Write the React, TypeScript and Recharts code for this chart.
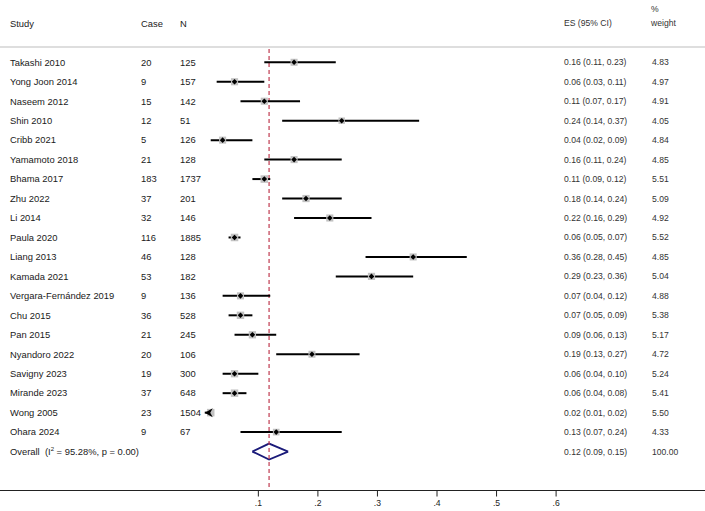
import React from "react";
import { ComposedChart, Scatter, ErrorBar, Area, XAxis, YAxis, ReferenceLine } from "recharts";

const studies = [
  "Takashi 2010", "Yong Joon 2014", "Naseem 2012", "Shin 2010", "Cribb 2021",
  "Yamamoto 2018", "Bhama 2017", "Zhu 2022", "Li 2014", "Paula 2020",
  "Liang 2013", "Kamada 2021", "Vergara-Fernández 2019", "Chu 2015", "Pan 2015",
  "Nyandoro 2022", "Savigny 2023", "Mirande 2023", "Wong 2005", "Ohara 2024",
];
const cases = [20, 9, 15, 12, 5, 21, 183, 37, 32, 116, 46, 53, 9, 36, 21, 20, 19, 37, 23, 9];
const totals = [125, 157, 142, 51, 126, 128, 1737, 201, 146, 1885, 128, 182, 136, 528, 245, 106, 300, 648, 1504, 67];
const es = [0.16, 0.06, 0.11, 0.24, 0.04, 0.16, 0.11, 0.18, 0.22, 0.06, 0.36, 0.29, 0.07, 0.07, 0.09, 0.19, 0.06, 0.06, 0.02, 0.13];
const ciLow = [0.11, 0.03, 0.07, 0.14, 0.02, 0.11, 0.09, 0.14, 0.16, 0.05, 0.28, 0.23, 0.04, 0.05, 0.06, 0.13, 0.04, 0.04, 0.01, 0.07];
const ciHigh = [0.23, 0.11, 0.17, 0.37, 0.09, 0.24, 0.12, 0.24, 0.29, 0.07, 0.45, 0.36, 0.12, 0.09, 0.13, 0.27, 0.10, 0.08, 0.02, 0.24];
const weights = [4.83, 4.97, 4.91, 4.05, 4.84, 4.85, 5.51, 5.09, 4.92, 5.52, 4.85, 5.04, 4.88, 5.38, 5.17, 4.72, 5.24, 5.41, 5.50, 4.33];
const arrowStudies = ["Wong 2005"];

const overallEs = 0.118;
const overallLow = 0.09;
const overallHigh = 0.15;
const overallWeight = "100.00";
const overallLabel = "Overall\u00a0\u00a0(I";
const overallStats = " = 95.28%, p = 0.00)";

const xTicks = [0.1, 0.2, 0.3, 0.4, 0.5, 0.6];
const xTickLabels = [".1", ".2", ".3", ".4", ".5", ".6"];

const FONT = "'Liberation Sans', Arial, Helvetica, sans-serif";

const studyData = studies.map((s, i) => ({
  x: es[i],
  row: i + 1,
  err: [es[i] - ciLow[i], ciHigh[i] - es[i]],
  w: weights[i],
  arrow: arrowStudies.includes(s),
}));

const arrowData = studies
  .map((s, i) => ({ x: ciLow[i], row: i + 1, s }))
  .filter((d) => arrowStudies.includes(d.s));

const overallRow = studies.length + 1;
const diamondData = [
  { x: overallLow, r: [overallRow, overallRow] },
  { x: overallEs, r: [overallRow - 0.41, overallRow + 0.41] },
  { x: overallHigh, r: [overallRow, overallRow] },
];

const labelData = [
  { x: 0, row: -1, kind: "header" },
  ...studies.map((s, i) => ({
    x: 0,
    row: i + 1,
    kind: "study",
    study: s,
    cases: String(cases[i]),
    n: String(totals[i]),
    ci: `${es[i].toFixed(2)} (${ciLow[i].toFixed(2)}, ${ciHigh[i].toFixed(2)})`,
    wt: weights[i].toFixed(2),
  })),
  {
    x: 0,
    row: overallRow,
    kind: "overall",
    ci: `${overallEs.toFixed(2)} (${overallLow.toFixed(2)}, ${overallHigh.toFixed(2)})`,
    wt: overallWeight,
  },
];

const StudyMarker = (props: any) => {
  const { cx, cy, payload } = props;
  const side = Math.sqrt(payload.w) * 3.2;
  return (
    <g>
      <rect x={cx - side / 2} y={cy - side / 2} width={side} height={side} fill="#c2c2c2" />
      {!payload.arrow && (
        <polygon
          points={`${cx - 2.8},${cy} ${cx},${cy - 2.8} ${cx + 2.8},${cy} ${cx},${cy + 2.8}`}
          fill="#000"
        />
      )}
    </g>
  );
};

const ArrowMarker = (props: any) => {
  const { cx, cy } = props;
  return (
    <polygon
      points={`${cx},${cy} ${cx + 8},${cy - 4.5} ${cx + 5.5},${cy} ${cx + 8},${cy + 4.5}`}
      fill="#000"
    />
  );
};

const txt = { fontFamily: FONT, dy: "0.35em" } as const;

const LabelRow = (props: any) => {
  const { cy, payload } = props;
  if (payload.kind === "header") {
    return (
      <g fill="#1a1a1a" fontSize={9.4}>
        <text x={10} y={cy} {...txt}>Study</text>
        <text x={141} y={cy} {...txt}>Case</text>
        <text x={180} y={cy} {...txt}>N</text>
        <text x={564} y={cy} {...txt} fontSize={8.6} fill="#333">ES (95% CI)</text>
        <text x={651} y={cy - 14} {...txt} fontSize={8.6} fill="#333">%</text>
        <text x={651} y={cy} {...txt} fontSize={8.6} fill="#333">weight</text>
      </g>
    );
  }
  if (payload.kind === "overall") {
    return (
      <g fill="#1a1a1a" fontSize={9.4}>
        <text x={10} y={cy} {...txt}>
          {overallLabel}
          <tspan fontSize={6} dy={-4}>2</tspan>
          <tspan dy={4}>{overallStats}</tspan>
        </text>
        <text x={564} y={cy} {...txt} fontSize={8.6} fill="#333">{payload.ci}</text>
        <text x={652} y={cy} {...txt} fontSize={8.6} fill="#333">{payload.wt}</text>
      </g>
    );
  }
  return (
    <g fill="#1a1a1a" fontSize={9.4}>
      <text x={10} y={cy} {...txt}>{payload.study}</text>
      <text x={141} y={cy} {...txt}>{payload.cases}</text>
      <text x={180} y={cy} {...txt}>{payload.n}</text>
      <text x={564} y={cy} {...txt} fontSize={8.6} fill="#333">{payload.ci}</text>
      <text x={652} y={cy} {...txt} fontSize={8.6} fill="#333">{payload.wt}</text>
    </g>
  );
};

export default function App() {
  return (
    <div style={{ position: "absolute", left: 0, top: 0, background: "#fff" }}>
      <ComposedChart width={705} height={511} margin={{ top: 0, right: 0, bottom: 0, left: 0 }}>
        <XAxis
          type="number"
          dataKey="x"
          domain={[-0.33384, 0.85004]}
          ticks={xTicks}
          tickFormatter={(v: number) => xTickLabels[xTicks.indexOf(v)] ?? ""}
          height={20.5}
          tickSize={6}
          tickMargin={3}
          stroke="#222"
          tick={{ fontSize: 8.6, fill: "#222", fontFamily: FONT }}
          allowDataOverflow
        />
        <YAxis type="number" dataKey="row" domain={[-2.2, 23]} reversed hide allowDataOverflow />
        <ReferenceLine y={0.215} stroke="#dedede" strokeWidth={2} />
        <ReferenceLine
          segment={[{ x: overallEs, y: 0.32 }, { x: overallEs, y: 23 }]}
          stroke="#bf3a4f"
          strokeWidth={1.2}
          strokeDasharray="4 3"
        />
        <Scatter data={studyData} shape={<StudyMarker />} isAnimationActive={false}>
          <ErrorBar dataKey="err" direction="x" width={0} stroke="#000" strokeWidth={2} />
        </Scatter>
        <Scatter data={arrowData} shape={<ArrowMarker />} isAnimationActive={false} />
        <Area
          data={diamondData}
          dataKey="r"
          type="linear"
          stroke="#1b1b7a"
          strokeWidth={1.8}
          fill="#fff"
          fillOpacity={1}
          dot={false}
          activeDot={false}
          isAnimationActive={false}
        />
        <Scatter data={labelData} shape={<LabelRow />} isAnimationActive={false} />
      </ComposedChart>
    </div>
  );
}
